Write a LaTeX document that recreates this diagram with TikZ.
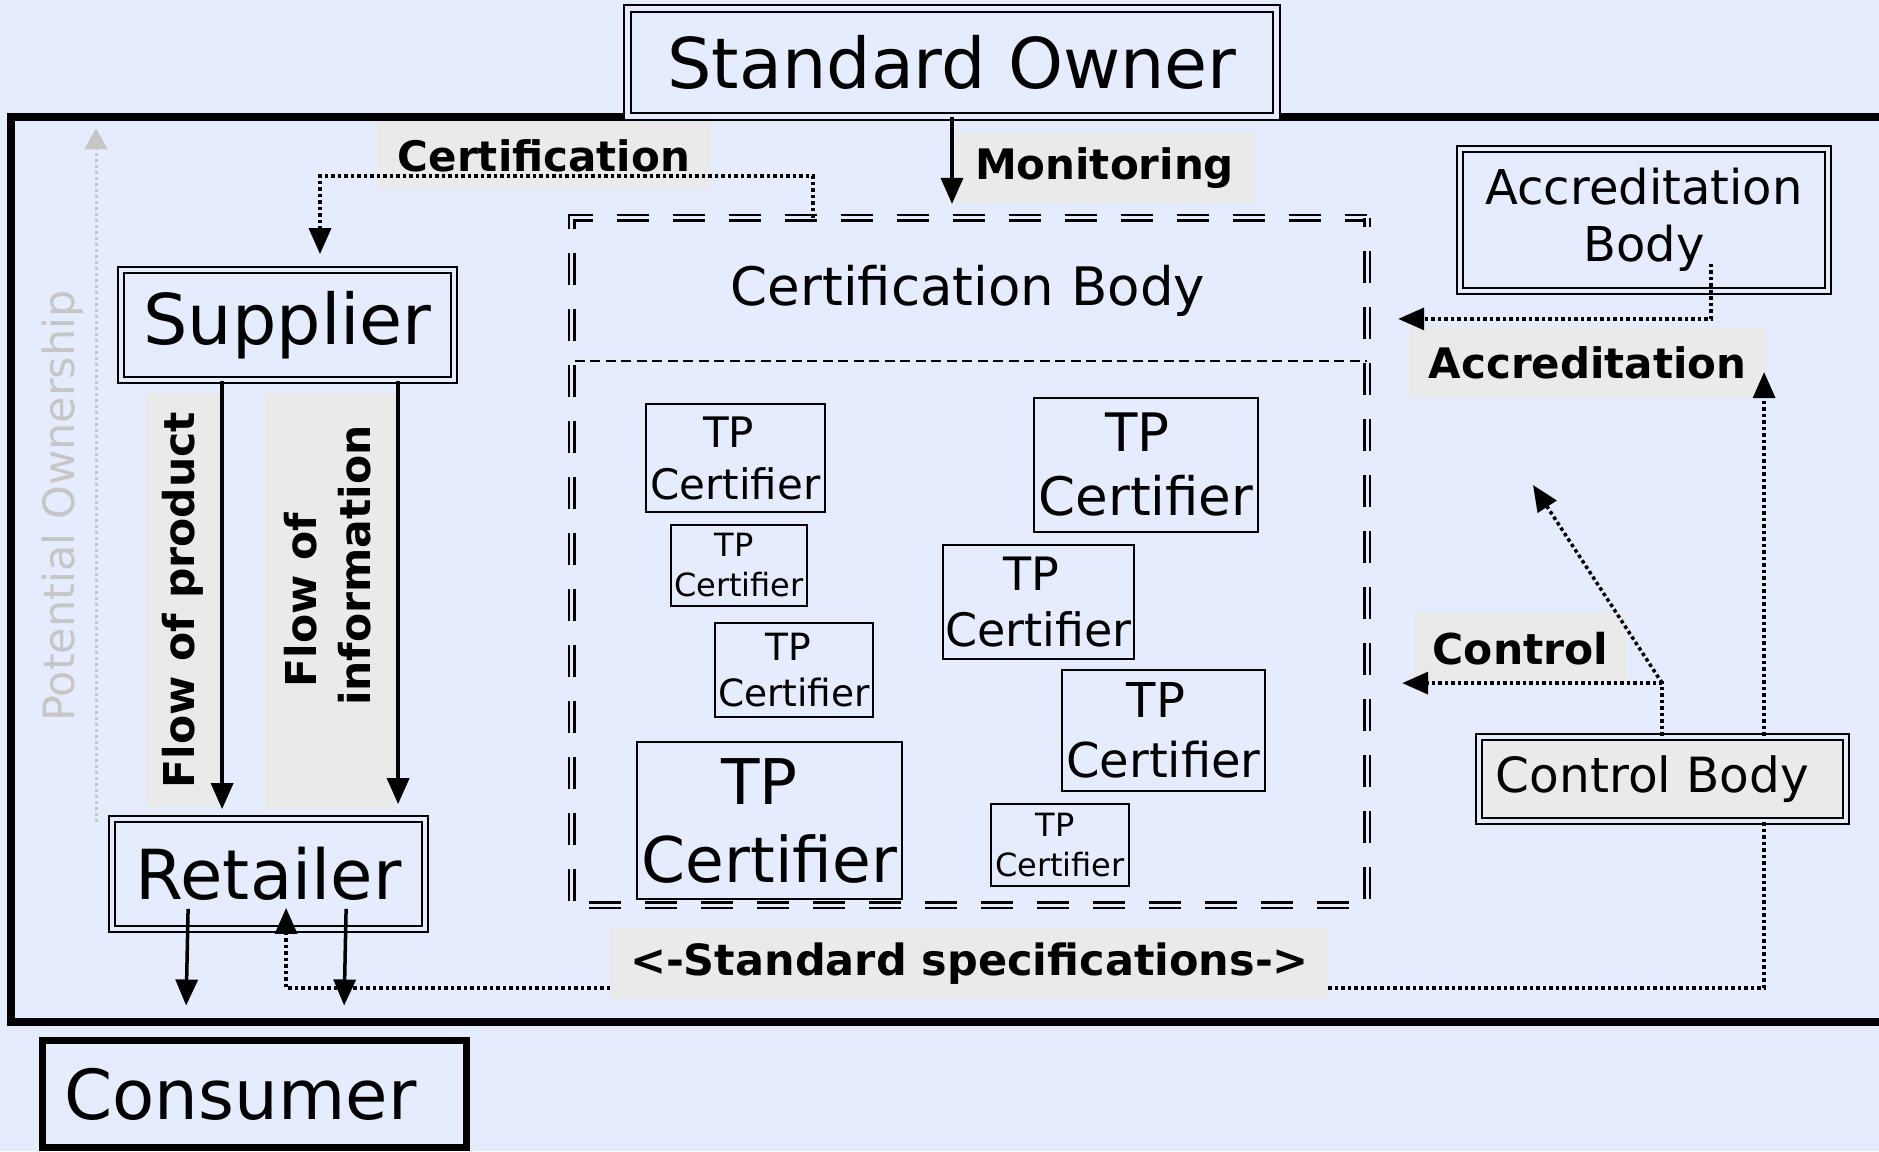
\documentclass[tikz,border=0pt]{standalone}
\usepackage{fontspec}
\setmainfont{DejaVu Sans}
\usetikzlibrary{arrows.meta,calc}
\definecolor{bgc}{RGB}{229,236,253}
\definecolor{labgray}{RGB}{234,234,234}
\definecolor{pogray}{RGB}{198,198,198}
\newcommand{\fsz}[2]{\fontsize{#1}{#2}\selectfont}
\begin{document}
\begin{tikzpicture}[x=1pt,y=-1pt,
  dbl/.style={draw, double=bgc, line width=1.8pt, double distance=4pt, inner sep=0pt, align=center},
  lab/.style={fill=labgray, inner sep=0pt},
  tpbox/.style={draw, line width=2pt, inner sep=0pt, align=center},
  cbline/.style={double=bgc, line width=2.4pt, double distance=3pt, dash pattern=on 32pt off 24pt},
  arr/.style={line width=3.5pt, -{Triangle[length=26pt,width=22pt]}},
  dotarr/.style={line width=3.5pt, dash pattern=on 3.5pt off 3pt, -{Triangle[length=26pt,width=22pt]}},
  poarr/.style={pogray, line width=3pt, dash pattern=on 3pt off 3pt, -{Triangle[length=21pt,width=22pt]}},
]
\fill[bgc] (0,0) rectangle (1879,1151);
\useasboundingbox (0,0) rectangle (1879,1151);

% outer frame
\draw[line width=8pt] (11,117) rectangle (1900,1022);

% main boxes
\node[dbl, double distance=5pt, minimum width=649.4pt, minimum height=107.7pt, font=\fsz{70}{84}] (so) at (952,62.15) {Standard Owner};
\node[dbl, minimum width=333.4pt, minimum height=110.4pt, font=\fsz{70}{84}] (sup) at (287.5,325) {Supplier};
\node[dbl, minimum width=313.4pt, minimum height=110.4pt, font=\fsz{69}{83}] (ret) at (268.5,874) {Retailer};
\node[draw, line width=7pt, inner sep=0pt, minimum width=424pt, minimum height=107pt, font=\fsz{69}{83}] (con) at (254.5,1094) {Consumer\kern28pt};
\node[dbl, minimum width=368.4pt, minimum height=142.4pt, font=\fsz{48}{57}] (ab) at (1644,220) {Accreditation\\Body};
\node[dbl, fill=labgray, minimum width=367.4pt, minimum height=84.4pt, font=\fsz{48.5}{58}] (ctl) at (1662.5,779) {Control Body\kern20pt};

% certification body
\node[inner sep=0pt, minimum width=794.8pt, minimum height=686.8pt] (cb) at (969.5,561.5) {};
\draw[cbline, dash phase=52pt] (cb.south west) -- (cb.north west) -- (cb.north east);
\draw[cbline, dash phase=23pt] (cb.north east) -- (cb.south east) -- (cb.south west);
\node[inner sep=0pt, font=\fsz{53}{64}] (cbt) at (968,291) {Certification Body};
\draw[line width=2.6pt, dash pattern=on 10pt off 5.5pt] ($(cb.north west)+(3,143)$) -- ($(cb.north east)+(0,143)$);

% TP certifiers
\node[tpbox, minimum width=179pt, minimum height=108pt, font=\fsz{42}{52}] (tp1) at (735.5,458) {TP\kern.32em\\Certifier};
\node[tpbox, minimum width=136pt, minimum height=81pt, font=\fsz{32}{40}] (tp2) at (739,565.5) {TP\kern.32em\\Certifier};
\node[tpbox, minimum width=158pt, minimum height=94pt, font=\fsz{37.5}{46}] (tp3) at (794,670) {TP\kern.32em\\Certifier};
\node[tpbox, minimum width=265pt, minimum height=157pt, font=\fsz{63}{78}] (tp4) at (769.5,820.5) {TP\kern.32em\\Certifier};
\node[tpbox, minimum width=224pt, minimum height=134pt, font=\fsz{53}{64}] (tp5) at (1146,465) {TP\kern.32em\\Certifier};
\node[tpbox, minimum width=191pt, minimum height=114pt, font=\fsz{46}{56}] (tp6) at (1038.5,602) {TP\kern.32em\\Certifier};
\node[tpbox, minimum width=203pt, minimum height=121pt, font=\fsz{48}{60}] (tp7) at (1163.5,730.5) {TP\kern.32em\\Certifier};
\node[tpbox, minimum width=138pt, minimum height=82pt, font=\fsz{32}{40}] (tp8) at (1060,845) {TP\kern.32em\\Certifier};

% labels
\node[lab, minimum width=334pt, minimum height=67pt, font=\bfseries\fsz{42}{50}] (lcert) at (544,155.5) {Certification};
\node[lab, minimum width=299pt, minimum height=70pt, font=\bfseries\fsz{42}{50}] (lmon) at (1104.5,168) {Monitoring};
\node[lab, minimum width=357pt, minimum height=70pt, font=\bfseries\fsz{42}{50}] (lacc) at (1587.5,363) {Accreditation};
\node[lab, minimum width=213pt, minimum height=71pt, font=\bfseries\fsz{42.5}{50}] (lctl) at (1520.5,648.5) {Control};
\node[lab, rotate=90, minimum width=414pt, minimum height=72pt, font=\bfseries\fsz{42.5}{50}] (lprod) at (183,600) {Flow of product};
\node[lab, rotate=90, minimum width=417pt, minimum height=130pt] (linfo) at (330,601.5) {};
\node[rotate=90, inner sep=0pt, font=\bfseries\fsz{42.5}{50}] (linfoA) at (301,600) {Flow of};
\node[rotate=90, inner sep=0pt, font=\bfseries\fsz{42.5}{50}] (linfoB) at (355,565.5) {information};
\node[rotate=90, inner sep=0pt, text=pogray, font=\fsz{43}{51}] (pot) at (63,506) {Potential Ownership};

% potential ownership arrow
\coordinate (poA) at (96,822);
\coordinate (poB) at (96,128);
\draw[poarr] (poA) -- (poB);

% monitoring
\draw[arr, shorten >=14pt] (so.south) -- (so.south |- cb.north);

% certification
\coordinate (cA) at ($(cb.north west)+(241,0)$);
\draw[dotarr, shorten >=14.8pt] (cA) -- ++(0,-42) -| ($(sup.north)+(32.5,0)$);

% flows supplier -> retailer
\draw[arr, shorten >=8.8pt] ($(sup.south west)+(102.2,0)$) -- ($(ret.north west)+(111.2,0)$);
\draw[arr, shorten >=13.8pt] ($(sup.south west)+(278.2,0)$) -- ($(ret.north west)+(287.2,0)$);

% retailer -> consumer
\draw[arr, shorten >=31.5pt] ($(ret.south west)+(77.2,-21.2)$) -- ($(con.north west)+(146.5,0)$);
\draw[arr, shorten >=31.5pt] ($(ret.south west)+(235.2,-21.2)$) -- ($(con.north west)+(304.5,0)$);

% standard specifications
\coordinate (cS) at ($(ctl.south west)+(286.2,0)$);
\coordinate (rS) at ($(ret.south west)+(175.2,-22.2)$);
\draw[dotarr] (cS) -- ++(0,165.8) -| (rS);
\node[lab, minimum width=717pt, minimum height=71pt, font=\bfseries\fsz{43}{51}] (lspec) at (969.5,963.5) {<-Standard specifications->};

% accreditation (control body -> accreditation)
\coordinate (cN) at ($(ctl.north west)+(286.2,0)$);
\coordinate (accTip) at ($(cN)+(0,-363.8)$);
\draw[dotarr] (cN) -- (accTip);

% accreditation body -> certification body
\coordinate (aS) at ($(ab.south west)+(252.2,-28.2)$);
\draw[dotarr, shorten >=31.1pt] (aS) -- ++(0,55) coordinate (aT) -- (aT -| cb.east);

% control
\coordinate (cC) at ($(ctl.north west)+(184.2,0)$);
\draw[dotarr, shorten >=35.1pt] (cC) -- ++(0,-52.8) coordinate (cK) -- (cK -| cb.east);
\coordinate (cD) at (1533,485);
\draw[dotarr] (cK) -- (cD);
\end{tikzpicture}
\end{document}
